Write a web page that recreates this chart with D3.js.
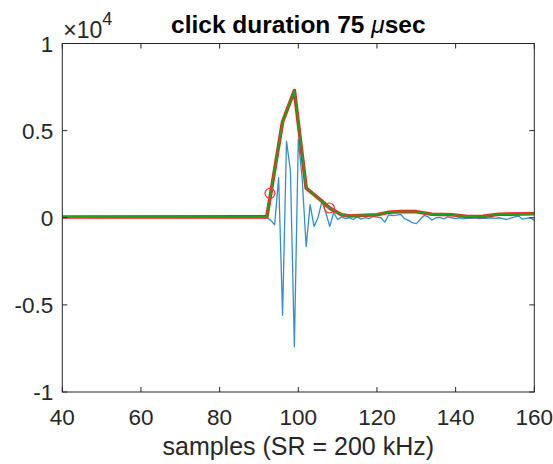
<!DOCTYPE html>
<html>
<head>
<meta charset="utf-8">
<script src="https://cdn.jsdelivr.net/npm/d3@7"></script>
<style>
  body { margin: 0; background: #fff; }
  svg { display: block; font-family: 'Liberation Sans', Arial, sans-serif; }
</style>
</head>
<body>
<div id="chart"></div>
<script>
// sample axis and signal values (units of 1e4)
const samples = d3.range(40, 161)
const signalTail = {
  88: 0.003, 89: 0.003, 90: 0.003, 91: 0.003, 92: 0.002, 93: -0.015, 94: -0.04,
  95: 0.23, 96: -0.56, 97: 0.44, 98: 0.27, 99: -0.74, 100: 0.45, 101: 0.22,
  102: -0.165, 103: 0.075, 104: -0.05, 105: 0.0, 106: 0.094, 107: 0.03, 108: -0.05,
  109: 0.03, 110: -0.01, 111: 0.005, 112: -0.005, 113: 0.0, 114: -0.01, 115: 0.005,
  116: -0.008, 117: 0.0, 118: -0.005, 119: 0.007, 120: 0.003, 121: 0.0, 122: -0.025,
  123: 0.017, 124: 0.013, 125: 0.015, 126: 0.02, 127: -0.005, 128: -0.015, 129: -0.028,
  130: -0.034, 131: -0.01, 132: 0.013, 133: 0.005, 134: -0.013, 135: 0.0, 136: 0.002,
  137: -0.006, 138: 0.005, 139: 0.0, 140: -0.005, 141: 0.0, 142: -0.005, 143: -0.003,
  144: -0.004, 145: 0.0, 146: -0.005, 147: -0.002, 148: -0.003, 149: 0.0, 150: -0.003,
  151: 0.0, 152: -0.005, 153: -0.01, 154: -0.002, 155: 0.005, 156: 0.01, 157: -0.008,
  158: -0.003, 159: 0.0, 160: -0.015
}
const signal = samples.map(s => signalTail[s] !== undefined ? signalTail[s] : 0.003)

// envelope knots
const envX = [40, 92, 93, 96, 99, 102, 106, 108, 111, 113, 120, 123, 126, 130, 134, 139, 143, 147, 151, 160]
const envY = [0.004, 0.005, 0.14, 0.55, 0.73, 0.17, 0.095, 0.055, 0.017, 0.01, 0.017, 0.032, 0.035, 0.035, 0.02, 0.017, 0.007, 0.008, 0.02, 0.023]

// duration markers
const markX = [92.8, 107.9]
const markY = [0.14, 0.056]

const xTicks = [40, 60, 80, 100, 120, 140, 160]
const yTicks = [-1, -0.5, 0, 0.5, 1]
const yTickLabels = ['-1', '-0.5', '0', '0.5', '1']

const W = 553
const H = 464
const mLeft = 62.3
const mTop = 43.5
const plotW = 472
const plotH = 348.5
const axisColor = '#262626'
const tickFont = 22.5

const svg = d3.select('#chart').append('svg')
  .attr('width', W)
  .attr('height', H)

const x = d3.scaleLinear().domain([40, 160]).range([mLeft, mLeft + plotW])
const y = d3.scaleLinear().domain([-1, 1]).range([mTop + plotH, mTop])

const g = svg.append('g')

// clip data to the axes box
svg.append('clipPath').attr('id', 'clip')
  .append('rect')
  .attr('x', mLeft).attr('y', mTop).attr('width', plotW).attr('height', plotH)

const plot = g.append('g').attr('clip-path', 'url(#clip)')

const line = d3.line().x(d => x(d[0])).y(d => y(d[1]))

plot.append('path')
  .datum(samples.map((s, i) => [s, signal[i]]))
  .attr('d', line)
  .attr('fill', 'none')
  .attr('stroke', '#0072BD')
  .attr('stroke-opacity', 0.8)
  .attr('stroke-width', 1.3)
  .attr('stroke-linejoin', 'round')

const env = envX.map((s, i) => [s, envY[i]])

plot.append('path')
  .datum(env)
  .attr('d', line)
  .attr('fill', 'none')
  .attr('stroke', '#ff1a1a')
  .attr('stroke-width', 3.6)
  .attr('stroke-linejoin', 'round')

plot.append('path')
  .datum(env)
  .attr('d', line)
  .attr('fill', 'none')
  .attr('stroke', '#1aa51a')
  .attr('stroke-width', 1.9)
  .attr('stroke-linejoin', 'round')

plot.selectAll('circle.mark')
  .data(markX.map((s, i) => [s, markY[i]]))
  .join('circle')
  .attr('class', 'mark')
  .attr('cx', d => x(d[0]))
  .attr('cy', d => y(d[1]))
  .attr('r', 5)
  .attr('fill', 'none')
  .attr('stroke', '#ff3030')
  .attr('stroke-width', 1.2)

// axes box
g.append('rect')
  .attr('x', mLeft).attr('y', mTop).attr('width', plotW).attr('height', plotH)
  .attr('fill', 'none')
  .attr('stroke', axisColor)
  .attr('stroke-width', 1)

const tickLen = 5

// x ticks top and bottom
xTicks.forEach(t => {
  g.append('line')
    .attr('x1', x(t)).attr('x2', x(t))
    .attr('y1', mTop + plotH).attr('y2', mTop + plotH - tickLen)
    .attr('stroke', axisColor)
  g.append('line')
    .attr('x1', x(t)).attr('x2', x(t))
    .attr('y1', mTop).attr('y2', mTop + tickLen)
    .attr('stroke', axisColor)
  g.append('text')
    .attr('x', x(t))
    .attr('y', mTop + plotH + 33)
    .attr('text-anchor', 'middle')
    .attr('font-size', tickFont)
    .attr('fill', axisColor)
    .text(t)
})

// y ticks left and right
yTicks.forEach((t, i) => {
  g.append('line')
    .attr('x1', mLeft).attr('x2', mLeft + tickLen)
    .attr('y1', y(t)).attr('y2', y(t))
    .attr('stroke', axisColor)
  g.append('line')
    .attr('x1', mLeft + plotW).attr('x2', mLeft + plotW - tickLen)
    .attr('y1', y(t)).attr('y2', y(t))
    .attr('stroke', axisColor)
  g.append('text')
    .attr('x', mLeft - 9)
    .attr('y', y(t) + 8)
    .attr('text-anchor', 'end')
    .attr('font-size', tickFont)
    .attr('fill', axisColor)
    .text(yTickLabels[i])
})

// exponent label
const expo = g.append('text')
  .attr('x', mLeft + 1)
  .attr('y', mTop - 6)
  .attr('font-size', 23)
  .attr('fill', axisColor)
expo.append('tspan').text('\u00d710')
expo.append('tspan').attr('dy', -13).attr('font-size', 18).text('4')

// title
const title = g.append('text')
  .attr('x', mLeft + plotW / 2)
  .attr('y', 33.3)
  .attr('text-anchor', 'middle')
  .attr('font-size', 24.5)
  .attr('font-weight', 'bold')
  .attr('fill', '#000')
title.append('tspan').text('click duration 75 ')
title.append('tspan').attr('font-style', 'italic').attr('font-weight', 'normal').text('\u03bc')
title.append('tspan').text('sec')

// x label
g.append('text')
  .attr('x', mLeft + plotW / 2)
  .attr('y', 455)
  .attr('text-anchor', 'middle')
  .attr('font-size', 25)
  .attr('fill', axisColor)
  .text('samples (SR = 200 kHz)')
</script>
</body>
</html>
